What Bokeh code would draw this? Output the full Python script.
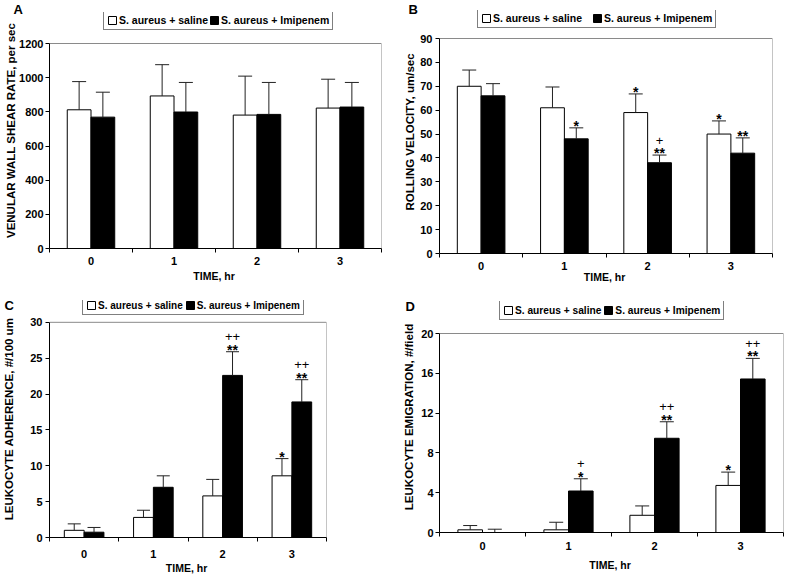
from bokeh.plotting import figure
from bokeh.models import (ColumnDataSource, Whisker, TeeHead, Legend, LegendItem,
                          Title, FixedTicker, Range1d)
from bokeh.transform import dodge
from bokeh.layouts import column, row
from bokeh.embed import file_html
from bokeh.resources import INLINE
from bokeh.core.properties import value

FONT = "Liberation Sans"

# ---------------- data ----------------
times = ["0", "1", "2", "3"]
series_names = ["S. aureus + saline", "S. aureus + Imipenem"]

# Panel A: venular wall shear rate (per sec)
a_saline = [812, 893, 781, 822]
a_saline_sem = [165, 183, 228, 169]
a_imi = [769, 799, 785, 828]
a_imi_sem = [146, 173, 187, 144]
a_saline_mark = ["", "", "", ""]
a_imi_star = ["", "", "", ""]
a_imi_plus = ["", "", "", ""]

# Panel B: rolling velocity (um/sec)
b_saline = [70, 61, 59, 50]
b_saline_sem = [6.8, 8.7, 7.8, 5.5]
b_imi = [66, 48, 38, 42]
b_imi_sem = [5.1, 4.6, 3.2, 6.4]
b_saline_mark = ["", "", "*", "*"]
b_imi_star = ["", "*", "**", "**"]
b_imi_plus = ["", "", "+", ""]

# Panel C: leukocyte adherence (#/100 um)
c_saline = [1.0, 2.8, 5.8, 8.6]
c_saline_sem = [0.9, 1.0, 2.3, 2.4]
c_imi = [0.74, 7.0, 22.6, 18.9]
c_imi_sem = [0.66, 1.6, 3.3, 3.1]
c_saline_mark = ["", "", "", "*"]
c_imi_star = ["", "", "**", "**"]
c_imi_plus = ["", "", "++", "++"]

# Panel D: leukocyte emigration (#/field)
d_saline = [0.27, 0.27, 1.73, 4.73]
d_saline_sem = [0.43, 0.76, 0.94, 1.34]
d_imi = [0.0, 4.17, 9.47, 15.43]
d_imi_sem = [0.33, 1.23, 1.66, 2.07]
d_saline_mark = ["", "", "", "*"]
d_imi_star = ["", "*", "**", "**"]
d_imi_plus = ["", "+", "++", "++"]

y_ticks_a = [0, 200, 400, 600, 800, 1000, 1200]
y_ticks_b = [0, 10, 20, 30, 40, 50, 60, 70, 80, 90]
y_ticks_c = [0, 5, 10, 15, 20, 25, 30]
y_ticks_d = [0, 4, 8, 12, 16, 20]

OFF = 0.143
BW = 0.286


def make_panel(letter, ylabel, saline, saline_sem, imi, imi_sem,
               saline_mark, imi_star, imi_plus, yticks, geo):
    n = len(times)
    src = ColumnDataSource(dict(
        x=list(range(n)),
        saline=saline,
        saline_top=[m + s for m, s in zip(saline, saline_sem)],
        imi=imi,
        imi_top=[m + s for m, s in zip(imi, imi_sem)],
        saline_mark=saline_mark,
        imi_star=imi_star,
        imi_plus=imi_plus,
    ))
    ymin, ymax = yticks[0], yticks[-1]
    # the plotting frame reaches up to the legend; the value axis stops at ymax
    frame_h = geo["fb"] - geo["bt"]
    data_h = geo["fb"] - geo["dt"]
    y_end = ymin + (ymax - ymin) * frame_h / data_h
    x0, x1 = -0.5, n - 0.5

    p = figure(width=geo["w"], height=geo["h"], output_backend="svg",
               toolbar_location=None,
               x_range=Range1d(x0, x1),
               y_range=Range1d(ymin, y_end),
               min_border_left=geo["bl"], min_border_right=geo["br"],
               min_border_top=geo["bt"], min_border_bottom=geo["h"] - geo["fb"])
    try:
        p.frame_align = False
    except Exception:
        pass
    p.grid.visible = False
    p.outline_line_color = None
    p.background_fill_color = "white"
    p.border_fill_color = "white"

    # top and right edges of the chart box
    p.line(x=[x0, x1, x1], y=[ymax, ymax, ymin], line_color="#8a8a8a", line_width=1)

    r_sal = p.vbar(x=dodge("x", -OFF), top="saline", bottom=0, width=BW,
                   fill_color="white", line_color="black", line_width=1, source=src)
    r_imi = p.vbar(x=dodge("x", OFF), top="imi", bottom=0, width=BW,
                   fill_color="black", line_color="black", line_width=1, source=src)

    for xs, lo, up in ((dodge("x", -OFF), "saline", "saline_top"),
                       (dodge("x", OFF), "imi", "imi_top")):
        w = Whisker(source=src, base=xs, lower=lo, upper=up, dimension="height",
                    line_color="#222222", line_width=1,
                    upper_head=TeeHead(size=geo["cap"], line_color="#222222", line_width=1),
                    lower_head=None, level="overlay")
        p.add_layout(w)

    star_kw = dict(text_align="center", text_baseline="alphabetic",
                   text_font=value(FONT), text_font_style="bold",
                   text_font_size="14px", text_color="black", source=src)
    p.text(x=dodge("x", -OFF), y="saline_top", text="saline_mark", y_offset=-2, **star_kw)
    p.text(x=dodge("x", OFF), y="imi_top", text="imi_star", y_offset=-2, **star_kw)
    plus_kw = dict(star_kw)
    plus_kw.update(text_font_style="normal", text_font_size="13px")
    p.text(x=dodge("x", OFF), y="imi_top", text="imi_plus", y_offset=-15, **plus_kw)

    # x axis: labels at category centres, ticks at category boundaries
    xa = p.xaxis[0]
    xa.ticker = FixedTicker(ticks=list(range(n)),
                            minor_ticks=[i - 0.5 for i in range(n + 1)])
    xa.major_label_overrides = {i: t for i, t in enumerate(times)}
    xa.major_tick_out = 0
    xa.major_tick_in = 0
    xa.minor_tick_out = 4
    xa.minor_tick_in = 0
    xa.axis_label = "TIME,  hr"
    xa.major_label_standoff = geo["xls"]
    xa.axis_label_standoff = geo["xas"]

    ya = p.yaxis[0]
    ya.ticker = FixedTicker(ticks=yticks)
    ya.bounds = (ymin, ymax)
    ya.major_tick_out = 4
    ya.major_tick_in = 0
    ya.minor_tick_out = 0
    ya.minor_tick_in = 0
    ya.axis_label = ylabel
    ya.major_label_standoff = geo["yls"]
    ya.axis_label_standoff = geo["yas"]

    for ax in (xa, ya):
        ax.axis_line_color = "black"
        ax.major_tick_line_color = "black"
        ax.minor_tick_line_color = "black"
        ax.major_label_text_font = FONT
        ax.major_label_text_font_style = "bold"
        ax.major_label_text_font_size = "11px"
        ax.major_label_text_color = "black"
        ax.axis_label_text_font = FONT
        ax.axis_label_text_font_style = "bold"
        ax.axis_label_text_color = "black"
    xa.axis_label_text_font_size = "10.5px"
    ya.axis_label_text_font_size = "11.5px"

    legend = Legend(items=[LegendItem(label=series_names[0], renderers=[r_sal]),
                           LegendItem(label=series_names[1], renderers=[r_imi])],
                    orientation="horizontal",
                    location=(geo["lx"], geo["fb"] - geo["lb"]),
                    label_text_font=FONT, label_text_font_style="bold",
                    label_text_font_size=geo["lfs"], label_text_color="black",
                    glyph_width=10, glyph_height=10, label_height=12,
                    label_standoff=2, spacing=geo["lsp"], padding=3, margin=0,
                    border_line_color="black", border_line_width=1,
                    background_fill_color="white", background_fill_alpha=1)
    p.add_layout(legend)

    p.title = Title(text=letter, align="left", offset=geo["loff"],
                    standoff=geo["lstd"], text_font=FONT, text_font_style="bold",
                    text_font_size="13px", text_color="black")
    return p


pA = make_panel("A", "VENULAR WALL SHEAR RATE, per sec",
                a_saline, a_saline_sem, a_imi, a_imi_sem,
                a_saline_mark, a_imi_star, a_imi_plus, y_ticks_a,
                dict(w=400, h=290, bl=49, br=19, bt=12, fb=248, dt=43, cap=14,
                     xls=4, xas=2, yls=2, yas=-1,
                     lx=54, lb=30, lfs="10.5px", lsp=1, loff=-36, lstd=-8))
pB = make_panel("B", "ROLLING VELOCITY, um/sec",
                b_saline, b_saline_sem, b_imi, b_imi_sem,
                b_saline_mark, b_imi_star, b_imi_plus, y_ticks_b,
                dict(w=400, h=290, bl=39, br=28, bt=10, fb=253, dt=38, cap=14,
                     xls=4, xas=-2, yls=3, yas=1,
                     lx=38, lb=28, lfs="10.5px", lsp=10, loff=-31, lstd=-12))
pC = make_panel("C", "LEUKOCYTE ADHERENCE, #/100 um",
                c_saline, c_saline_sem, c_imi, c_imi_sem,
                c_saline_mark, c_imi_star, c_imi_plus, y_ticks_c,
                dict(w=400, h=286, bl=49, br=74, bt=10, fb=249, dt=32, cap=13,
                     xls=8, xas=1, yls=3, yas=12,
                     lx=33, lb=27, lfs="10px", lsp=2, loff=-45, lstd=-24))
pD = make_panel("D", "LEUKOCYTE EMIGRATION, #/field",
                d_saline, d_saline_sem, d_imi, d_imi_sem,
                d_saline_mark, d_imi_star, d_imi_plus, y_ticks_d,
                dict(w=400, h=286, bl=39, br=17, bt=11, fb=242, dt=43, cap=14,
                     xls=5, xas=6, yls=2, yas=3,
                     lx=60, lb=30, lfs="10.2px", lsp=2, loff=-34, lstd=-24))

layout = column(row(pA, pB, spacing=0), row(pC, pD, spacing=0), spacing=0)

open("out.html", "w").write(file_html(layout, INLINE))
